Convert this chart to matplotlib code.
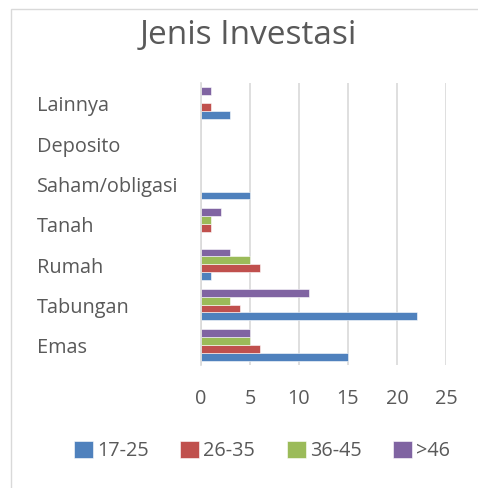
import matplotlib.pyplot as plt
from matplotlib.patches import Rectangle
import matplotlib.transforms as mtransforms
import numpy as np

plt.rcParams['font.family'] = ['Open Sans', 'DejaVu Sans']

categories = ['Emas', 'Tabungan', 'Rumah', 'Tanah', 'Saham/obligasi', 'Deposito', 'Lainnya']
series_names = ['17-25', '26-35', '36-45', '>46']
s_17_25 = [15, 22, 1, 0, 5, 0, 3]
s_26_35 = [6, 4, 6, 1, 0, 0, 1]
s_36_45 = [5, 3, 5, 1, 0, 0, 0]
s_46 = [5, 11, 3, 2, 0, 0, 1]
colors = ['#4F81BD', '#C0504D', '#9BBB59', '#8064A2']
x_ticks = [0, 5, 10, 15, 20, 25]

text_col = '#595959'
fs = 14.3
W, H = 478, 488
fig = plt.figure(figsize=(W / 100, H / 100), dpi=100)

# chart border (extends past right/bottom edge)
fig.patches.append(Rectangle((11 / W, -0.1), 1.2, 1 - 9 / H + 0.1, transform=fig.transFigure,
                             fill=False, edgecolor='#d9d9d9', lw=1))

ax = fig.add_axes([201 / W, 1 - 365 / H, 245 / W, 282 / H])

y = np.arange(len(categories))
h = 0.195
all_series = [s_17_25, s_26_35, s_36_45, s_46]
for i, (vals, c, name) in enumerate(zip(all_series, colors, series_names)):
    ax.barh(y + (i - 1.5) * h, vals, height=h, color=c, label=name,
            edgecolor='white', linewidth=0.4)

ax.set_xlim(0, 25)
ax.set_ylim(-0.5, len(categories) - 0.5)
ax.set_xticks(x_ticks)
ax.set_yticks([])
ax.grid(axis='x', color='#d9d9d9', lw=1.2)
ax.set_axisbelow(True)
for s in ['top', 'right', 'bottom']:
    ax.spines[s].set_visible(False)
ax.spines['left'].set_color('#d9d9d9')
ax.spines['left'].set_linewidth(1.2)
ax.tick_params(axis='x', length=0, pad=17, labelsize=fs, labelcolor=text_col)

trans = mtransforms.blended_transform_factory(fig.transFigure, ax.transData)
for yi, cat in zip(y, categories):
    fig.text(37 / W, yi - 0.08, cat, transform=trans, ha='left', va='center',
             fontsize=fs, color=text_col)

fig.text(248 / W, 1 - 36 / H, 'Jenis Investasi', ha='center', va='center',
         fontsize=24, color=text_col)

leg = fig.legend(loc='center', bbox_to_anchor=(262 / W, 1 - 451 / H), ncol=4, frameon=False,
                 fontsize=fs, handlelength=0.95, handleheight=0.95, handletextpad=0.2,
                 columnspacing=1.6, labelcolor=text_col)

fig.savefig('out.png', dpi=100)
